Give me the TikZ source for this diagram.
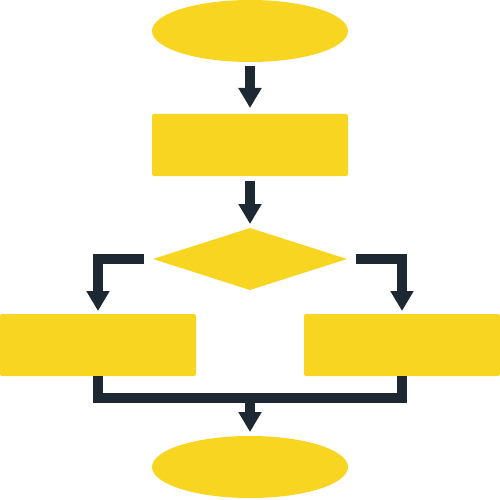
\documentclass[tikz,border=0pt]{standalone}
\usetikzlibrary{shapes.geometric,arrows.meta}
\definecolor{fyellow}{HTML}{F8D521}
\definecolor{fdark}{HTML}{1E2832}
\begin{document}
\begin{tikzpicture}[x=1pt,y=-1pt,
 shapebox/.style={fill=fyellow,draw=none,inner sep=0pt,outer sep=0pt},
 ovalbox/.style={shapebox,ellipse,minimum width=196pt,minimum height=62pt},
 rectbox/.style={shapebox,rectangle,rounded corners=2pt,minimum width=196pt,minimum height=62pt},
 decbox/.style={shapebox,diamond,minimum width=194pt,minimum height=62pt},
 link/.style={draw=fdark,line width=10pt,line join=miter},
 flow/.style={link,-{Triangle[width=22pt,length=20pt]}}]
\useasboundingbox (0,0) rectangle (500,500);
\node[ovalbox] (start) at (250,31) {};
\node[rectbox] (proc) at (250,145) {};
\node[decbox] (dec) at (250,259) {};
\node[rectbox] (left) at (98,345) {};
\node[rectbox] (right) at (402,345) {};
\node[ovalbox] (stop) at (250,467) {};
\coordinate (join) at (250,398);
\draw[flow,shorten <=4pt,shorten >=6pt] (start.south) -- (proc.north);
\draw[flow,shorten <=5pt,shorten >=4pt] (proc.south) -- (dec.north);
\draw[flow,shorten <=9pt,shorten >=3pt] (dec.west) -| (left.north);
\draw[flow,shorten <=9pt,shorten >=3pt] (dec.east) -| (right.north);
\draw[link] (left.south) |- (join) -| (right.south);
\draw[flow,shorten >=4pt] (join) -- (stop.north);
\end{tikzpicture}
\end{document}
